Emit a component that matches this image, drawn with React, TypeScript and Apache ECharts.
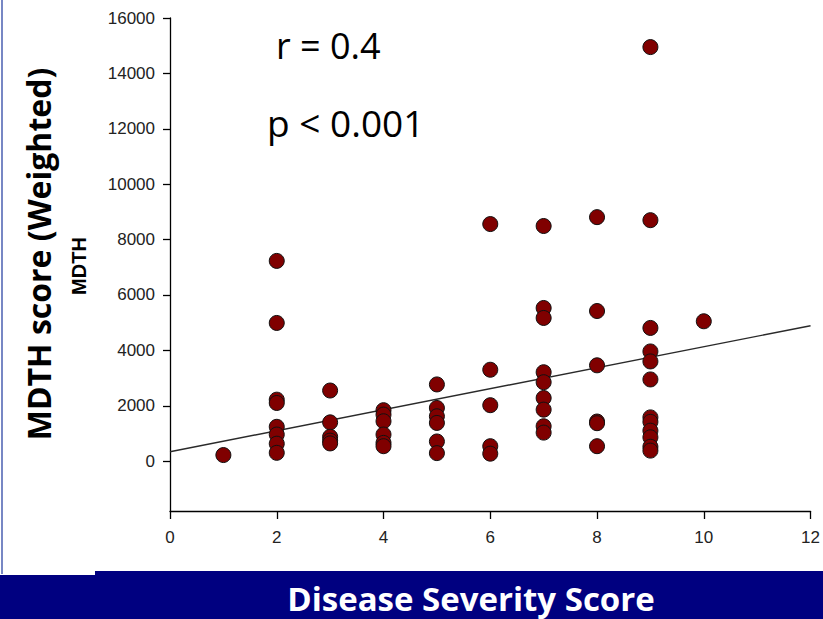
import React, { useEffect, useRef } from "react";
import * as echarts from "echarts";

// Disease severity score levels and the weighted MDTH scores observed at each level
const severityLevels = [1, 2, 3, 4, 5, 6, 7, 8, 9, 10];
const mdthAtLevel1 = [220];
const mdthAtLevel2 = [7230, 4990, 2220, 2100, 1240, 960, 630, 300];
const mdthAtLevel3 = [2550, 1400, 880, 740, 640];
const mdthAtLevel4 = [1840, 1680, 1440, 960, 660, 540];
const mdthAtLevel5 = [2770, 1920, 1620, 1380, 710, 290];
const mdthAtLevel6 = [8560, 3300, 2020, 540, 270];
const mdthAtLevel7 = [8490, 5530, 5170, 3210, 2850, 2280, 1860, 1260, 1030];
const mdthAtLevel8 = [8810, 5420, 3460, 1430, 1370, 540];
const mdthAtLevel9 = [14950, 8700, 4810, 3960, 3600, 2950, 1580, 1420, 1100, 860, 520, 380];
const mdthAtLevel10 = [5050];

// Regression line end points (score, MDTH)
const fitStart = [0, 340];
const fitEnd = [12, 4890];

// Axis ticks
const yTickValues = [0, 2000, 4000, 6000, 8000, 10000, 12000, 14000, 16000];
const yMin = -1800;
const yMax = 16000;
const xMin = 0;
const xMax = 12;
const xInterval = 2;

const rText = "r = 0.4";
const pText = "p < 0.001";
const yTitle = "MDTH score (Weighted)";
const ySubTitle = "MDTH";
const xTitle = "Disease Severity Score";

export default function App() {
  const ref = useRef<HTMLDivElement>(null);

  useEffect(() => {
    if (!ref.current) return;
    const chart = echarts.init(ref.current, null, { renderer: "svg", width: 823, height: 619 });
    const groups = [
      mdthAtLevel1, mdthAtLevel2, mdthAtLevel3, mdthAtLevel4, mdthAtLevel5,
      mdthAtLevel6, mdthAtLevel7, mdthAtLevel8, mdthAtLevel9, mdthAtLevel10,
    ];
    const points: number[][] = [];
    severityLevels.forEach((lvl, i) => {
      groups[i].forEach((v) => points.push([lvl, v]));
    });

    const tickFont = '"Liberation Sans Narrow", "Arial Narrow", "Liberation Sans", Arial, sans-serif';

    chart.setOption({
      animation: false,
      backgroundColor: "#ffffff",
      grid: { left: 170, right: 9, top: 18, bottom: 108, containLabel: false },
      xAxis: {
        type: "value",
        min: xMin,
        max: xMax,
        interval: xInterval,
        axisLine: { show: true, onZero: false, lineStyle: { color: "#000", width: 1.3 } },
        axisTick: { show: true, inside: false, length: 8, lineStyle: { color: "#000", width: 1.3 } },
        axisLabel: {
          color: "#222",
          fontSize: 17,
          fontFamily: tickFont,
          margin: 18,
          formatter: (v: number) => String(v),
        },
        splitLine: { show: false },
      },
      yAxis: {
        type: "value",
        min: yMin,
        max: yMax,
        axisLine: { show: true, onZero: false, lineStyle: { color: "#000", width: 1.3 } },
        axisTick: {
          show: true,
          inside: false,
          length: 7,
          customValues: yTickValues,
          lineStyle: { color: "#000", width: 1.3 },
        },
        axisLabel: {
          color: "#222",
          fontSize: 17,
          fontFamily: tickFont,
          margin: 15,
          customValues: yTickValues,
          formatter: (v: number) => String(v),
        },
        splitLine: { show: false },
      },
      series: [
        {
          type: "line",
          data: [fitStart, fitEnd],
          showSymbol: false,
          symbol: "none",
          lineStyle: { color: "#2a2a2a", width: 1.4 },
          z: 1,
          silent: true,
        },
        {
          type: "scatter",
          data: points,
          symbol: "circle",
          symbolSize: 15,
          itemStyle: { color: "#800000", borderColor: "#111", borderWidth: 1, opacity: 1 },
          z: 2,
        },
      ],
      graphic: [
        {
          type: "line",
          shape: { x1: 2, y1: 0, x2: 2, y2: 574 },
          style: { stroke: "#4a5fb0", lineWidth: 1.5 },
        },
        {
          type: "rect",
          shape: { x: 95, y: 571, width: 728, height: 48 },
          style: { fill: "#000080" },
        },
        {
          type: "rect",
          shape: { x: 0, y: 575, width: 96, height: 44 },
          style: { fill: "#000080" },
        },
        {
          type: "text",
          x: 471,
          y: 598,
          style: {
            text: xTitle,
            fill: "#ffffff",
            font: 'bold 33px "Open Sans", "Noto Sans", sans-serif',
            lineHeight: 34,
            align: "center",
            verticalAlign: "middle",
          },
        },
        {
          type: "text",
          x: 38,
          y: 254,
          rotation: Math.PI / 2,
          style: {
            text: yTitle,
            fill: "#000",
            font: 'bold 32px "Open Sans", "Noto Sans", sans-serif',
            align: "center",
            verticalAlign: "middle",
          },
        },
        {
          type: "text",
          x: 79,
          y: 266,
          rotation: Math.PI / 2,
          style: {
            text: ySubTitle,
            fill: "#000",
            font: 'bold 20px "Liberation Sans", Arial, sans-serif',
            align: "center",
            verticalAlign: "middle",
          },
        },
        {
          type: "text",
          x: 276,
          y: 45,
          style: {
            text: rText,
            fill: "#000",
            font: '36px "Open Sans", "Noto Sans", sans-serif',
            align: "left",
            verticalAlign: "middle",
          },
        },
        {
          type: "text",
          x: 267,
          y: 122,
          style: {
            text: pText,
            fill: "#000",
            font: '37px "Open Sans", "Noto Sans", sans-serif',
            align: "left",
            verticalAlign: "middle",
          },
        },
      ],
    });
    return () => chart.dispose();
  }, []);

  return (
    <div
      ref={ref}
      style={{ position: "absolute", left: 0, top: 0, width: 823, height: 619 }}
    />
  );
}
